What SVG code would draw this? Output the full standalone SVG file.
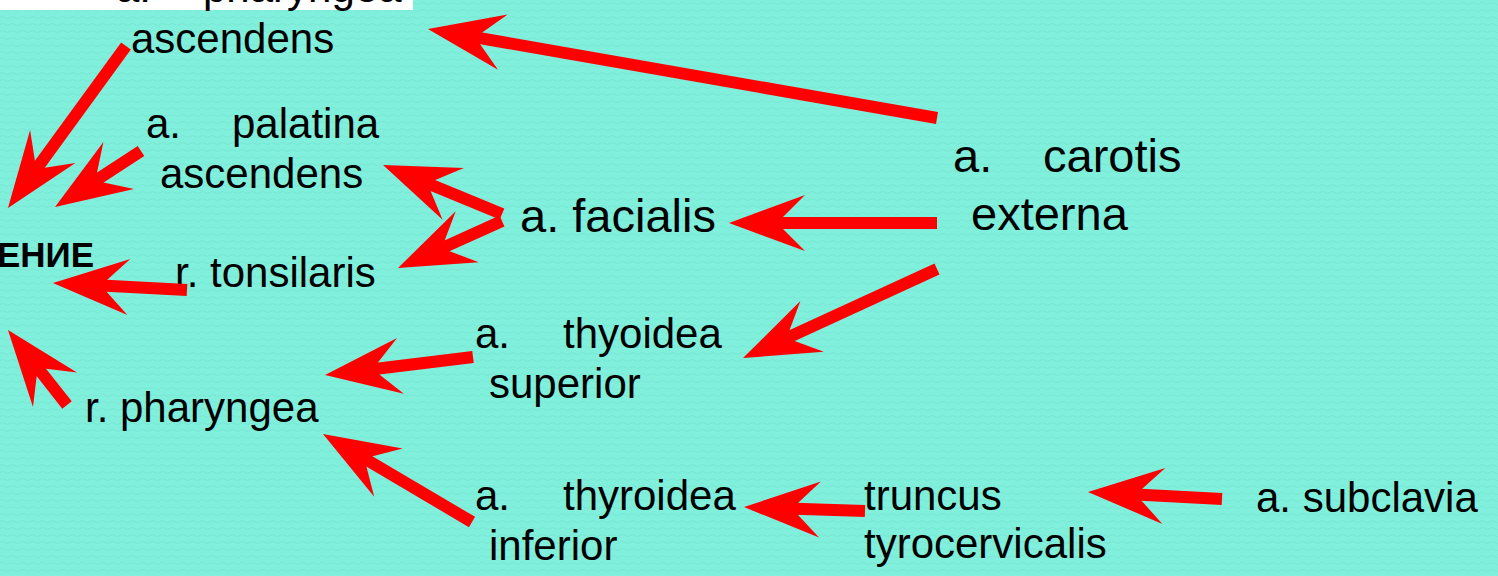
<svg xmlns="http://www.w3.org/2000/svg" width="1498" height="576" viewBox="0 0 1498 576">
<style>
.t{font-family:"Liberation Sans",Arial,sans-serif;font-size:42px;fill:#000}
.b{font-size:47px}
.h{font-family:"Liberation Sans",Arial,sans-serif;font-size:35px;font-weight:bold;fill:#000}
.c line{stroke:#ff0000;stroke-width:12;stroke-linecap:butt;marker-end:url(#ah)}
</style>
<defs>
<marker id="ah" markerUnits="userSpaceOnUse" orient="auto" refX="0" refY="0" markerWidth="100" markerHeight="100" overflow="visible">
<path d="M44,0 L-32,-28 L-10,-6 L-10,6 L-32,28 Z" fill="#ff0000"/>
</marker>
<pattern id="bg" width="10" height="7" patternUnits="userSpaceOnUse">
<rect width="10" height="7" fill="#80F0DC"/>
<path d="M0,3.5 Q2.5,1.5 5,3.5 T10,3.5" fill="none" stroke="#78E6D2" stroke-width="1"/>
</pattern>
</defs>
<rect width="1498" height="576" fill="url(#bg)"/>
<g id="n-pharyngea-asc">
<rect x="0" y="0" width="413" height="10" fill="#ffffff"/>
<text class="t" x="116" y="2">a.</text><text class="t" x="203" y="2">pharyngea</text>
<text class="t" x="131" y="53">ascendens</text>
</g>
<g id="n-palatina">
<text class="t" x="146" y="138">a.</text><text class="t" x="232" y="138">palatina</text>
<text class="t" x="160" y="188">ascendens</text>
</g>
<g id="n-enie"><text class="h" x="-3" y="267">ЕНИЕ</text></g>
<g id="n-tonsilaris"><text class="t" x="175" y="287">r. tonsilaris</text></g>
<g id="n-r-pharyngea"><text class="t" x="85" y="422">r. pharyngea</text></g>
<g id="n-facialis"><text class="t b" x="520" y="232">a. facialis</text></g>
<g id="n-carotis">
<text class="t b" x="953" y="172">a.</text><text class="t b" x="1043" y="172">carotis</text>
<text class="t b" x="971" y="230">externa</text>
</g>
<g id="n-thy-sup">
<text class="t" x="475" y="348">a.</text><text class="t" x="563" y="348">thyoidea</text>
<text class="t" x="489" y="398">superior</text>
</g>
<g id="n-thy-inf">
<text class="t" x="475" y="510">a.</text><text class="t" x="563" y="510">thyroidea</text>
<text class="t" x="489" y="560">inferior</text>
</g>
<g id="n-truncus">
<text class="t" x="864" y="510">truncus</text>
<text class="t" x="864" y="558">tyrocervicalis</text>
</g>
<g id="n-subclavia"><text class="t" x="1256" y="512">a. subclavia</text></g>
<g id="connectors" class="c">
<line x1="937" y1="118" x2="471.3" y2="36.6"/>
<line x1="126" y1="46" x2="33.9" y2="172.4"/>
<line x1="141" y1="151" x2="91.9" y2="183"/>
<line x1="502" y1="214" x2="423.7" y2="181.8"/>
<line x1="502" y1="221" x2="438.1" y2="249.9"/>
<line x1="937" y1="223" x2="773" y2="223"/>
<line x1="187" y1="290" x2="96.9" y2="285.3"/>
<line x1="937" y1="269" x2="783" y2="339.7"/>
<line x1="473" y1="357" x2="368.7" y2="369.7"/>
<line x1="67" y1="405" x2="35.2" y2="364.6"/>
<line x1="472" y1="522" x2="360.9" y2="456.4"/>
<line x1="865" y1="511" x2="788" y2="508.5"/>
<line x1="1222" y1="499" x2="1131.9" y2="494.3"/>
</g>
</svg>
